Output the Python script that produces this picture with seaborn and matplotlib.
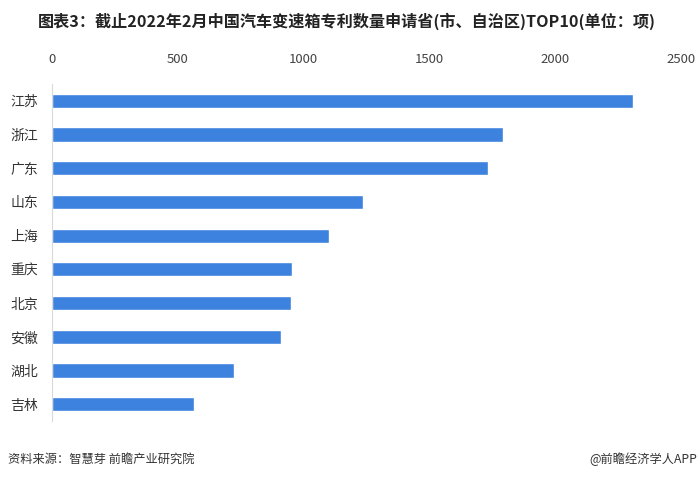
import matplotlib
matplotlib.use("Agg")
import matplotlib.pyplot as plt
import seaborn as sns
import pandas as pd

# data
provinces = ["江苏", "浙江", "广东", "山东", "上海", "重庆", "北京", "安徽", "湖北", "吉林"]
patents = [2310, 1791, 1734, 1237, 1100, 954, 950, 909, 725, 564]
x_ticks = [0, 500, 1000, 1500, 2000, 2500]

title = "图表3：截止2022年2月中国汽车变速箱专利数量申请省(市、自治区)TOP10(单位：项)"
source = "资料来源：智慧芽 前瞻产业研究院"
credit = "@前瞻经济学人APP"

sns.set_style("white")
plt.rcParams['font.family'] = ['Noto Sans CJK SC', 'DejaVu Sans']

df = pd.DataFrame({"province": provinces, "count": patents})

fig = plt.figure(figsize=(7, 4.78), dpi=100)
ax = fig.add_axes([52 / 700, 1 - 421 / 478, 629 / 700, 337 / 478])

sns.barplot(data=df, x="count", y="province", color="#3d82de",
            saturation=1, width=0.42, ax=ax)

ax.set_xlim(0, 2500)
ax.set_ylim(9.5, -0.5)
ax.set_xticks(x_ticks)
ax.xaxis.tick_top()
ax.tick_params(axis="x", length=0, labelsize=9.5, colors="#444444", pad=13)
ax.tick_params(axis="y", length=0, labelsize=10, colors="#333333", pad=10)
ax.set_xlabel("")
ax.set_ylabel("")

for side in ["top", "right", "bottom"]:
    ax.spines[side].set_visible(False)
ax.spines["left"].set_color("#d9d9d9")
ax.spines["left"].set_linewidth(0.8)

fig.text(38 / 700, 1 - 21 / 478, title, fontsize=11.6, fontweight="bold",
         color="#222222", va="center", ha="left")
fig.text(8 / 700, 1 - 459 / 478, source, fontsize=8.8, color="#333333",
         va="center", ha="left")
fig.text(697 / 700, 1 - 459 / 478, credit, fontsize=8.8, color="#333333",
         va="center", ha="right")

plt.savefig("out.png", dpi=100)
